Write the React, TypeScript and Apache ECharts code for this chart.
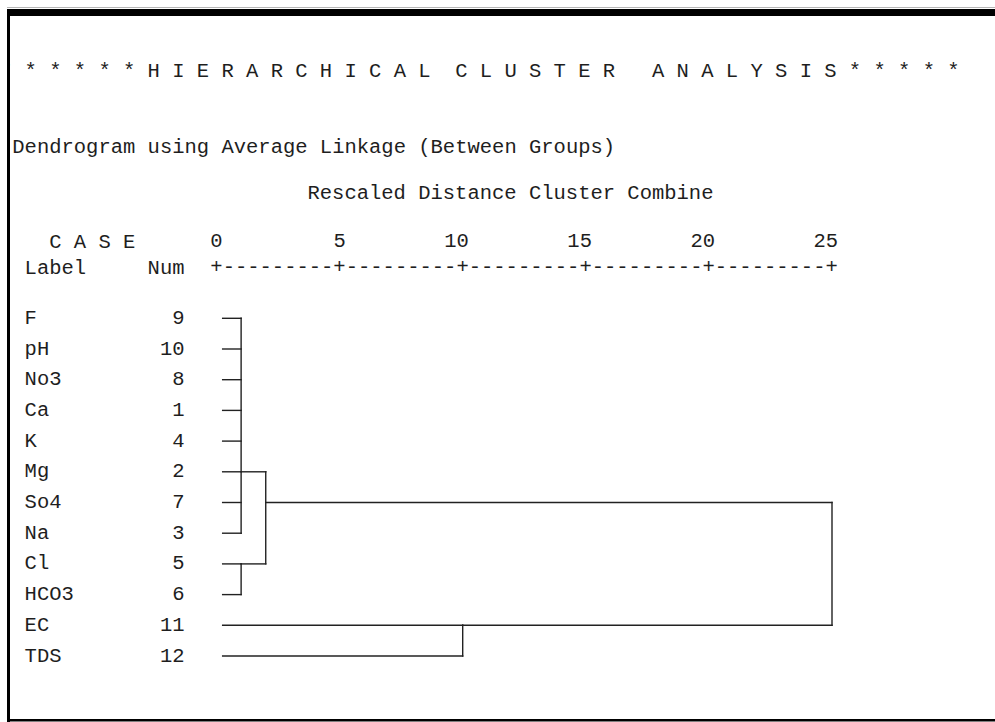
import React, { useEffect, useRef } from "react";
import * as echarts from "echarts";

// ---- data ----
const caseLabels = ["F", "pH", "No3", "Ca", "K", "Mg", "So4", "Na", "Cl", "HCO3", "EC", "TDS"];
const caseNums = [9, 10, 8, 1, 4, 2, 7, 3, 5, 6, 11, 12];
const distanceTicks = [0, 5, 10, 15, 20, 25];
// leaves start a little right of 0 (SPSS text dendrogram)
const leafStart = 0.25;
// clusters: children are leaf rows (numbers) or cluster ids ("c0".."c4")
const clusterChildren: (number | string)[][] = [
  [0, 1, 2, 3, 4, 5, 6, 7],
  [8, 9],
  ["c0", "c1"],
  [10, 11],
  ["c2", "c3"],
];
const clusterHeights = [1, 1, 2, 10, 25];
// row through which each cluster's line leaves toward its parent
const clusterExitRows = [5, 8, 6, 10, 10];

const titleText =
  "* * * * * * H I E R A R C H I C A L  C L U S T E R   A N A L Y S I S * * * * *";
const subtitleText = "Dendrogram using Average Linkage (Between Groups)";
const axisTitleText = "Rescaled Distance Cluster Combine";

// ---- segments built from the cluster tree ----
function buildSegments(): number[][] {
  const segs: number[][] = [];
  clusterChildren.forEach((children, ci) => {
    const h = clusterHeights[ci];
    const rows: number[] = [];
    children.forEach((ch) => {
      let x0: number, row: number;
      if (typeof ch === "number") {
        x0 = leafStart;
        row = ch;
      } else {
        const k = parseInt(ch.slice(1), 10);
        x0 = clusterHeights[k];
        row = clusterExitRows[k];
      }
      rows.push(row);
      segs.push([x0, row, h, row]);
    });
    segs.push([h, Math.min(...rows), h, Math.max(...rows)]);
  });
  return segs;
}

const FONT = "'Courier New', 'Liberation Mono', monospace";
const FS = 20.5;
const CW = FS * 0.6;
const INK = "#1e1e1e";

export default function App() {
  const ref = useRef<HTMLDivElement>(null);
  useEffect(() => {
    if (!ref.current) return;
    const chart = echarts.init(ref.current, undefined, { renderer: "svg" });
    const gridLeft = 216.5;
    const gridRight = 995 - 832;
    const gridTop = 318.3;
    const gridBottom = 722 - 656;
    const col0 = 12.3;
    const txt = (text: string, x: number, y: number, extra: any = {}) => ({
      type: "text",
      x,
      y,
      z: 10,
      style: {
        text,
        fill: INK,
        fontSize: FS,
        fontFamily: FONT,
        align: "left",
        verticalAlign: "middle",
        textAlign: "left",
        textVerticalAlign: "middle",
        ...extra,
      },
    });
    let plusLine = "+";
    for (let i = 1; i < distanceTicks.length; i++) plusLine += "-".repeat(9) + "+";

    chart.setOption({
      animation: false,
      backgroundColor: "#ffffff",
      grid: { left: gridLeft, right: gridRight, top: gridTop, bottom: gridBottom, containLabel: false },
      xAxis: {
        type: "value",
        min: 0,
        max: 25,
        interval: 5,
        position: "top",
        offset: gridTop - 267,
        axisLine: { show: false },
        axisTick: { show: false },
        splitLine: { show: false },
        axisLabel: {
          margin: 15,
          color: INK,
          fontSize: FS,
          fontFamily: FONT,
          formatter: (v: number) => `{a|${v}}`,
          rich: { a: { width: CW, align: "right", fontSize: FS, fontFamily: FONT, color: INK } },
        },
      },
      yAxis: [
        {
          type: "category",
          data: caseLabels,
          inverse: true,
          boundaryGap: false,
          axisLine: { show: false },
          axisTick: { show: false },
          splitLine: { show: false },
          axisLabel: {
            align: "left",
            margin: gridLeft - 24.6,
            color: INK,
            fontSize: FS,
            fontFamily: FONT,
          },
        },
        {
          type: "category",
          data: caseNums.map(String),
          inverse: true,
          boundaryGap: false,
          position: "left",
          axisLine: { show: false },
          axisTick: { show: false },
          splitLine: { show: false },
          axisLabel: {
            align: "right",
            margin: gridLeft - (col0 + 14 * CW),
            color: INK,
            fontSize: FS,
            fontFamily: FONT,
          },
        },
      ],
      series: [
        {
          type: "custom",
          xAxisIndex: 0,
          yAxisIndex: 0,
          data: buildSegments(),
          encode: { x: [0, 2], y: [1, 3] },
          renderItem: (params: any, api: any) => {
            const p1 = api.coord([api.value(0), api.value(1)]);
            const p2 = api.coord([api.value(2), api.value(3)]);
            return {
              type: "line",
              shape: { x1: p1[0], y1: p1[1], x2: p2[0], y2: p2[1] },
              style: { stroke: "#222", lineWidth: 1.4, lineCap: "square" },
            };
          },
          silent: true,
        },
      ],
      graphic: [
        { type: "rect", z: 20, shape: { x: 7, y: 7, width: 988, height: 1 }, style: { fill: "#b5b5b5" } },
        { type: "rect", z: 20, shape: { x: 7, y: 9, width: 988, height: 7 }, style: { fill: "#000" } },
        { type: "rect", z: 20, shape: { x: 0, y: 16, width: 7, height: 706 }, style: { fill: "#fff" } },
        { type: "rect", z: 20, shape: { x: 7, y: 9, width: 3, height: 713 }, style: { fill: "#000" } },
        { type: "rect", z: 20, shape: { x: 7, y: 719, width: 988, height: 2.5 }, style: { fill: "#000" } },
        txt(titleText, col0 - CW, 71),
        txt(subtitleText, col0, 147),
        txt(axisTitleText, col0 + 24 * CW, 193),
        txt("C A S E", col0 + 3 * CW, 242),
        txt("Label", col0 + CW, 268),
        txt("Num", col0 + 11 * CW, 268),
        txt(plusLine, gridLeft - CW / 2, 267),
      ],
    });
    return () => chart.dispose();
  }, []);
  return (
    <div
      ref={ref}
      style={{ position: "absolute", left: 0, top: 0, width: 995, height: 722, background: "#fff" }}
    />
  );
}
